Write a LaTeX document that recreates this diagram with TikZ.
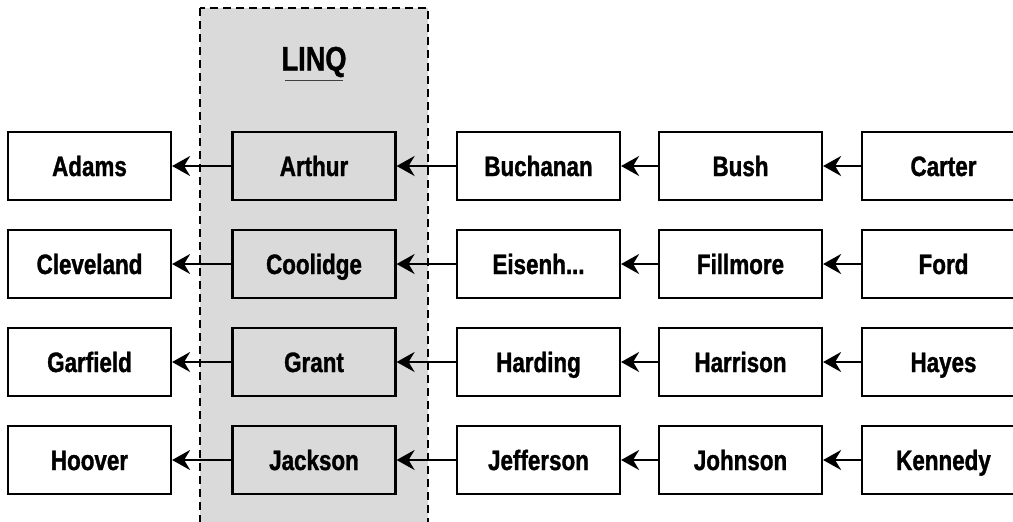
\documentclass[tikz,border=0pt]{standalone}
\usepackage{fontspec}
\setmainfont{Liberation Sans}[FakeStretch=0.8, BoldFeatures={FakeBold=1.2}]
\usetikzlibrary{arrows.meta}
\definecolor{linqgray}{RGB}{218,218,218}

\begin{document}
\begin{tikzpicture}[x=0.5pt,y=-0.5pt,
  pres/.style={draw, line width=1.1pt, minimum width=81.5pt, minimum height=34pt,
    inner sep=0pt, text height=11pt, text depth=1pt,
    font=\bfseries\fontsize{14}{16}\selectfont},
  arr/.style={line width=1.1pt, -{Stealth[length=9pt,width=10pt,inset=3pt]}}]
\useasboundingbox (0,0) rectangle (1013,521);
\clip (0,0) rectangle (1013,521);

% LINQ region
\filldraw[fill=linqgray, draw=black, line width=1pt, dash pattern=on 4pt off 2.5pt]
  (200,8) rectangle (428,530);
\node[font=\bfseries\fontsize{17}{19}\selectfont] (linq) at (314,62) {LINQ};
\draw[line width=0.8pt, black!75] (285,80.5) -- (343,80.5);

% first column
 \node[pres, fill=white] at (89.5,166) (adams) {Adams};
 \node[pres, fill=white] at (89.5,264) (cleveland) {Cleveland};
 \node[pres, fill=white] at (89.5,362) (garfield) {Garfield};
 \node[pres, fill=white] at (89.5,460) (hoover) {Hoover};

% inside LINQ
 \node[pres] at (314,166) (arthur) {Arthur};
 \node[pres] at (314,264) (coolidge) {Coolidge};
 \node[pres] at (314,362) (grant) {Grant};
 \node[pres] at (314,460) (jackson) {Jackson};

 \node[pres, fill=white] at (538.5,166) (buchanan) {Buchanan};
 \node[pres, fill=white] at (538.5,264) (eisenhower) {Eisenh...};
 \node[pres, fill=white] at (538.5,362) (harding) {Harding};
 \node[pres, fill=white] at (538.5,460) (jefferson) {Jefferson};

 \node[pres, fill=white] at (740.5,166) (bush) {Bush};
 \node[pres, fill=white] at (740.5,264) (fillmore) {Fillmore};
 \node[pres, fill=white] at (740.5,362) (harrison) {Harrison};
 \node[pres, fill=white] at (740.5,460) (johnson) {Johnson};

 \node[pres, fill=white] at (943.5,166) (carter) {Carter};
 \node[pres, fill=white] at (943.5,264) (ford) {Ford};
 \node[pres, fill=white] at (943.5,362) (hayes) {Hayes};
 \node[pres, fill=white] at (943.5,460) (kennedy) {Kennedy};

\draw[arr] (arthur) -- (adams);
\draw[arr] (buchanan) -- (arthur);
\draw[arr] (bush) -- (buchanan);
\draw[arr] (carter) -- (bush);

\draw[arr] (coolidge) -- (cleveland);
\draw[arr] (eisenhower) -- (coolidge);
\draw[arr] (fillmore) -- (eisenhower);
\draw[arr] (ford) -- (fillmore);

\draw[arr] (grant) -- (garfield);
\draw[arr] (harding) -- (grant);
\draw[arr] (harrison) -- (harding);
\draw[arr] (hayes) -- (harrison);

\draw[arr] (jackson) -- (hoover);
\draw[arr] (jefferson) -- (jackson);
\draw[arr] (johnson) -- (jefferson);
\draw[arr] (kennedy) -- (johnson);

\end{tikzpicture}
\end{document}
